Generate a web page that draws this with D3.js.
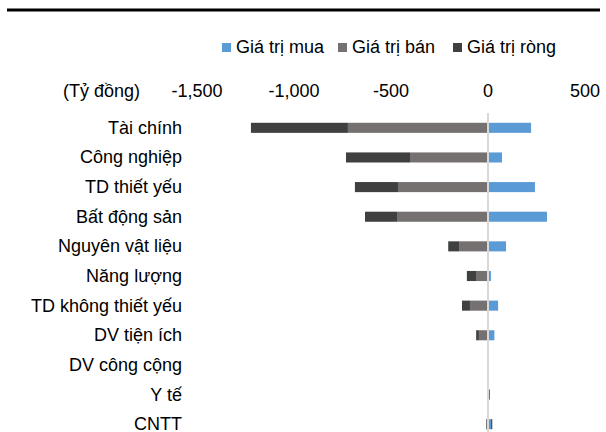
<!DOCTYPE html>
<html>
<head>
<meta charset="utf-8">
<script src="https://cdn.jsdelivr.net/npm/d3@7"></script>
<style>
  html, body { margin: 0; padding: 0; background: #fff; }
  svg { display: block; font-family: "Liberation Sans", Arial, sans-serif; }
</style>
</head>
<body>
<div id="chart"></div>
<script>
// Giá trị mua / bán / ròng theo ngành (Tỷ đồng)
const categories = ['Tài chính', 'Công nghiệp', 'TD thiết yếu', 'Bất động sản', 'Nguyên vật liệu',
  'Năng lượng', 'TD không thiết yếu', 'DV tiện ích', 'DV công cộng', 'Y tế', 'CNTT'];
const buyValues  = [222, 72, 242, 304, 93, 15, 52, 33, 0, 5, 16];
const sellValues = [-722, -402, -464, -469, -149, -62, -93, -47, 0, -1, -10];
const netValues  = [-500, -330, -222, -165, -56, -47, -41, -14, 0, 4, 6];
const xTicks = [-1500, -1000, -500, 0, 500];
const seriesNames = ['Giá trị mua', 'Giá trị bán', 'Giá trị ròng'];
const seriesColors = ['#5b9bd5', '#767171', '#404040'];

const W = 606, H = 432;
const svg = d3.select('#chart').append('svg')
  .attr('width', W).attr('height', H);

// top rule
svg.append('line')
  .attr('x1', 7).attr('x2', 600).attr('y1', 10).attr('y2', 10)
  .attr('stroke', '#000').attr('stroke-width', 3);

const x = d3.scaleLinear().domain([-1500, 500]).range([197, 585]);
const y = d3.scaleBand().domain(categories).range([113, 439]).paddingInner(0.66).paddingOuter(0.33);

const rows = categories.map((c, i) => ({ cat: c, buy: buyValues[i], sell: sellValues[i], net: netValues[i] }));
const keys = ['buy', 'sell', 'net'];
const stacked = d3.stack().keys(keys).offset(d3.stackOffsetDiverging)(rows);

svg.append('g').selectAll('g')
  .data(stacked)
  .join('g')
  .attr('fill', (d, i) => seriesColors[i])
  .selectAll('rect')
  .data(d => d)
  .join('rect')
  .attr('x', d => x(Math.min(d[0], d[1])))
  .attr('width', d => Math.abs(x(d[1]) - x(d[0])))
  .attr('y', d => y(d.data.cat))
  .attr('height', y.bandwidth());

// zero axis line
svg.append('line')
  .attr('x1', x(0)).attr('x2', x(0))
  .attr('y1', 113).attr('y2', H)
  .attr('stroke', '#d9d9d9').attr('stroke-width', 2);

// x tick labels on top
svg.append('g').selectAll('text')
  .data(xTicks)
  .join('text')
  .attr('x', d => x(d))
  .attr('y', 97)
  .attr('text-anchor', 'middle')
  .attr('font-size', 18)
  .attr('fill', '#000')
  .text(d => d3.format(',')(d).replace('−', '-'));

svg.append('text')
  .attr('x', 63).attr('y', 97)
  .attr('font-size', 18)
  .text('(Tỷ đồng)');

// category labels
svg.append('g').selectAll('text')
  .data(categories)
  .join('text')
  .attr('x', 182)
  .attr('y', d => y(d) + y.bandwidth() / 2 + 6)
  .attr('text-anchor', 'end')
  .attr('font-size', 18)
  .text(d => d);

// legend
const legendX = [222, 338, 453];
const legend = svg.append('g').selectAll('g')
  .data(seriesNames)
  .join('g')
  .attr('transform', (d, i) => `translate(${legendX[i]},0)`);
legend.append('rect')
  .attr('x', 0).attr('y', 43).attr('width', 9).attr('height', 9)
  .attr('fill', (d, i) => seriesColors[i]);
legend.append('text')
  .attr('x', 14).attr('y', 52.5)
  .attr('font-size', 18)
  .text(d => d);
</script>
</body>
</html>
